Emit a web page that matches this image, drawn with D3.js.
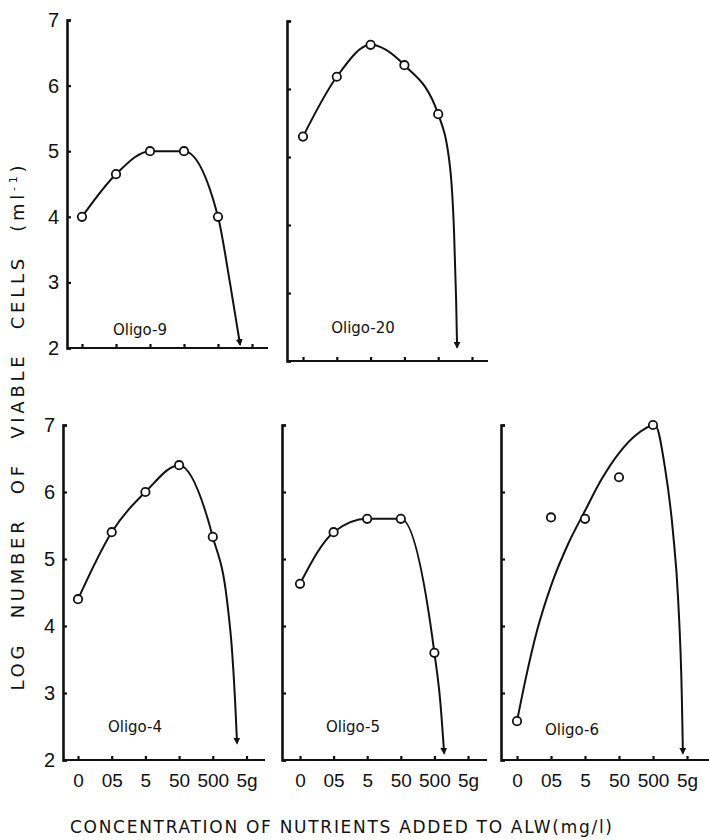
<!DOCTYPE html>
<html>
<head>
<meta charset="utf-8">
<title>Log number of viable cells</title>
<style>
  body { margin: 0; background: #fff; }
  text { font-family: "Liberation Sans", Arial, sans-serif; fill: #111; }
  .axis path, .axis line { stroke: #111; stroke-width: 2.2; }
  .curve { fill: none; stroke: #111; stroke-width: 2; }
  .dot { fill: #fff; stroke: #111; stroke-width: 1.8; }
  .pname { font-family: "DejaVu Sans", sans-serif; font-size: 15px; }
  .title { font-family: "DejaVu Sans", sans-serif; font-size: 18px; }
</style>
<script src="https://d3js.org/d3.v7.min.js"></script>
</head>
<body>
<div id="chart"></div>
<script>
// data
var categories = ["0", "05", "5", "50", "500", "5g"];
var yTicks = [2, 3, 4, 5, 6, 7];
var panelNames = ["Oligo-9", "Oligo-20", "Oligo-4", "Oligo-5", "Oligo-6"];

var oligo9  = [4.0, 4.65, 5.0, 5.0, 4.0];
var oligo20 = [5.3, 6.18, 6.65, 6.35, 5.63];
var oligo4  = [4.4, 5.4, 6.0, 6.4, 5.33];
var oligo5  = [4.63, 5.4, 5.6, 5.6, 3.6];
var oligo6  = [2.58, 5.62, 5.6, 6.22, 7.0];

// falling part of each curve, [category position, log value], ending at the arrow
var tail9  = [[4.35, 3.0], [4.65, 2.05]];
var tail20 = [[4.35, 4.85], [4.47, 3.88], [4.53, 2.9], [4.56, 2.2]];
var tail4  = [[4.42, 4.39], [4.57, 3.64], [4.66, 2.9], [4.72, 2.25]];
var tail5  = [[4.17, 2.9], [4.29, 2.1]];
// Oligo-6 curve is a fitted line that does not pass through the points
var fit6 = [[0, 2.58], [0.25, 3.2], [0.6, 3.95], [1, 4.6], [1.5, 5.22], [2, 5.72], [2.5, 6.2],
            [3, 6.58], [3.5, 6.85], [4.06, 7.0], [4.35, 6.37], [4.59, 5.39], [4.74, 4.39],
            [4.85, 2.9], [4.88, 2.1]];

function through(values, tail) {
  return values.map(function(v, i) { return [i, v]; }).concat(tail);
}

// panel frames (pixels)
var panels = [
  {name: panelNames[0], values: oligo9,  curve: through(oligo9, tail9),   left: 67,  x0: 82,  step: 34,   right: 268, top: 20,  bottom: 348, yLab: true,  xLab: false, nx: 140, ny: 335},
  {name: panelNames[1], values: oligo20, curve: through(oligo20, tail20), left: 287, x0: 303, step: 33.8, right: 488, top: 21,  bottom: 361, yLab: false, xLab: false, nx: 363, ny: 333},
  {name: panelNames[2], values: oligo4,  curve: through(oligo4, tail4),   left: 63,  x0: 78,  step: 33.7, right: 265, top: 425, bottom: 760, yLab: true,  xLab: true,  nx: 135, ny: 732},
  {name: panelNames[3], values: oligo5,  curve: through(oligo5, tail5),   left: 282, x0: 300, step: 33.6, right: 487, top: 425, bottom: 760, yLab: false, xLab: true,  nx: 353, ny: 732},
  {name: panelNames[4], values: oligo6,  curve: fit6,                     left: 501, x0: 517, step: 34,   right: 709, top: 425, bottom: 760, yLab: false, xLab: true,  nx: 572, ny: 735}
];

var svg = d3.select("#chart").append("svg")
  .attr("width", 709)
  .attr("height", 840);

svg.append("defs").append("marker")
  .attr("id", "arrow")
  .attr("viewBox", "0 0 10 10")
  .attr("refX", 8).attr("refY", 5)
  .attr("markerWidth", 7).attr("markerHeight", 7)
  .attr("markerUnits", "userSpaceOnUse")
  .attr("orient", "auto")
  .append("path")
  .attr("d", "M0,0L10,5L0,10Z")
  .attr("fill", "#111");

var line = d3.line().curve(d3.curveMonotoneX);

panels.forEach(function(p) {
  var x = d3.scaleLinear().domain([0, 5]).range([p.x0, p.x0 + 5 * p.step]);
  var y = d3.scaleLinear().domain([2, 7]).range([p.bottom, p.top]);
  var g = svg.append("g");

  // x axis
  var xa = g.append("g")
    .attr("class", "axis")
    .attr("transform", "translate(0," + p.bottom + ")")
    .call(d3.axisBottom(x)
      .tickValues(d3.range(categories.length))
      .tickSize(-4)
      .tickPadding(14)
      .tickFormat(function(i) { return p.xLab ? categories[i] : ""; }));
  xa.select(".domain").remove();
  xa.append("line")
    .attr("x1", p.left).attr("x2", p.right)
    .attr("y1", 0).attr("y2", 0);
  xa.selectAll("text").style("font-size", "19px").attr("fill", "#111");

  // y axis
  var ya = g.append("g")
    .attr("class", "axis")
    .attr("transform", "translate(" + p.left + ",0)")
    .call(d3.axisLeft(y)
      .tickValues(yTicks)
      .tickSizeInner(-4)
      .tickSizeOuter(-4)
      .tickPadding(8)
      .tickFormat(function(d) { return p.yLab ? d : ""; }));
  ya.select(".domain").style("stroke-width", 2.6);
  ya.selectAll("text").style("font-size", "20px").attr("fill", "#111");

  g.append("path")
    .datum(p.curve)
    .attr("class", "curve")
    .attr("marker-end", "url(#arrow)")
    .attr("d", line.x(function(d) { return x(d[0]); }).y(function(d) { return y(d[1]); }));

  g.selectAll(".dot")
    .data(p.values)
    .enter().append("circle")
    .attr("class", "dot")
    .attr("cx", function(d, i) { return x(i); })
    .attr("cy", function(d) { return y(d); })
    .attr("r", 4.2);

  g.append("text")
    .attr("class", "pname")
    .attr("x", p.nx).attr("y", p.ny)
    .attr("text-anchor", "middle")
    .text(p.name);
});

// axis titles
var yt = svg.append("text")
  .attr("class", "title")
  .attr("transform", "translate(24,428) rotate(-90)")
  .attr("text-anchor", "middle")
  .attr("textLength", 525)
  .attr("lengthAdjust", "spacing")
  .style("word-spacing", "14px");
yt.append("tspan").text("LOG NUMBER OF VIABLE CELLS (ml");
yt.append("tspan").attr("dy", -7).style("font-size", "11px").text("-1");
yt.append("tspan").attr("dy", 7).text(")");

svg.append("text")
  .attr("class", "title")
  .attr("x", 341).attr("y", 833)
  .attr("text-anchor", "middle")
  .attr("textLength", 542)
  .attr("lengthAdjust", "spacing")
  .style("font-size", "17px")
  .text("CONCENTRATION OF NUTRIENTS ADDED TO ALW(mg/l)");
</script>
</body>
</html>
